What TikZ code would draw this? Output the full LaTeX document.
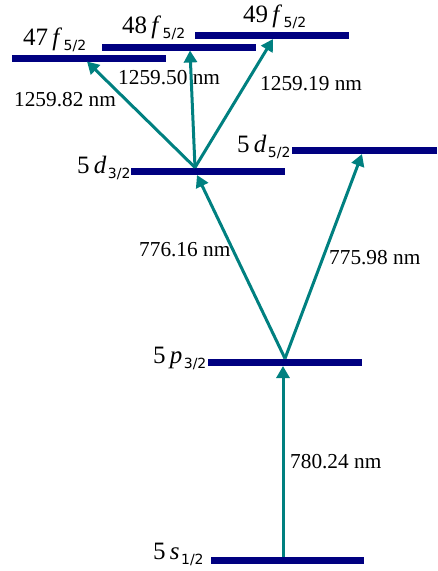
\documentclass[tikz,border=0pt]{standalone}
\usepackage{fontspec}
\setmainfont{Liberation Serif}
\newfontfamily\subfont{DejaVu Sans}
\usetikzlibrary{arrows.meta}
\definecolor{lvlnavy}{RGB}{0,0,128}
\definecolor{arrteal}{RGB}{0,128,128}
\newcommand{\statelbl}[3]{{\fontsize{25}{25}\selectfont #1\,\textit{#2}}\kern1.5pt\raisebox{-5pt}{\subfont\fontsize{14}{14}\selectfont #3}}
\tikzset{
  level/.style={draw=lvlnavy, line width=7pt},
  trans/.style={draw=arrteal, line width=3pt, -{Triangle[length=12pt,width=13pt]}},
  wl/.style={inner sep=0pt, anchor=west, font=\fontsize{21.3}{21.3}\selectfont},
  st/.style={inner sep=0pt, anchor=base west}
}
\begin{document}
\begin{tikzpicture}[x=1pt,y=-1pt]
\useasboundingbox (0,0) rectangle (437,571);
% level ends
\coordinate (s1) at (211,560); \coordinate (s2) at (364,560);
\coordinate (p1) at (208,362); \coordinate (p2) at (362,362);
\coordinate (d31) at (131,171); \coordinate (d32) at (285,171);
\coordinate (d51) at (292,150); \coordinate (d52) at (437,150);
\coordinate (f471) at (12,58); \coordinate (f472) at (166,58);
\coordinate (f481) at (102,47); \coordinate (f482) at (256,47);
\coordinate (f491) at (195,35.5); \coordinate (f492) at (349,35.5);
\draw[level] (s1) -- (s2);
\draw[level] (p1) -- (p2);
\draw[level] (d31) -- (d32);
\draw[level] (d51) -- (d52);
\draw[level] (f471) -- (f472);
\draw[level] (f481) -- (f482);
\draw[level] (f491) -- (f492);
% arrow ends
\coordinate (sA) at (283,556.5);
\coordinate (pB) at (283,366);
\coordinate (pA) at (285,358.5);
\coordinate (dB) at (197,175);
\coordinate (d5B) at (362,154);
\coordinate (dA) at (195,167.5);
\coordinate (f47B) at (87,61.5);
\coordinate (f48B) at (190,50.5);
\coordinate (f49B) at (273,39);
\draw[trans] (sA) -- (pB);
\draw[trans] (pA) -- (dB);
\draw[trans] (pA) -- (d5B);
\draw[trans] (dA) -- (f47B);
\draw[trans] (dA) -- (f48B);
\draw[trans] (dA) -- (f49B);
% state labels
\node[st] (ls) at (153,559) {\statelbl{5}{s}{1/2}};
\node[st] (lp) at (153,363) {\statelbl{5}{p}{3/2}};
\node[st] (ld3) at (77,173) {\statelbl{5}{d}{3/2}};
\node[st] (ld5) at (237,152) {\statelbl{5}{d}{5/2}};
\node[st] (l47) at (23,45) {\statelbl{47}{f}{5/2}};
\node[st] (l48) at (122,33) {\statelbl{48}{f}{5/2}};
\node[st] (l49) at (243,22) {\statelbl{49}{f}{5/2}};
% wavelength labels
\node[wl] (w1) at (290,462) {780.24 nm};
\node[wl] (w2) at (139,250) {776.16 nm};
\node[wl] (w3) at (329,258) {775.98 nm};
\node[wl] (w4) at (14,100) {1259.82 nm};
\node[wl] (w5) at (118,78) {1259.50 nm};
\node[wl] (w6) at (260,84) {1259.19 nm};
\end{tikzpicture}
\end{document}
